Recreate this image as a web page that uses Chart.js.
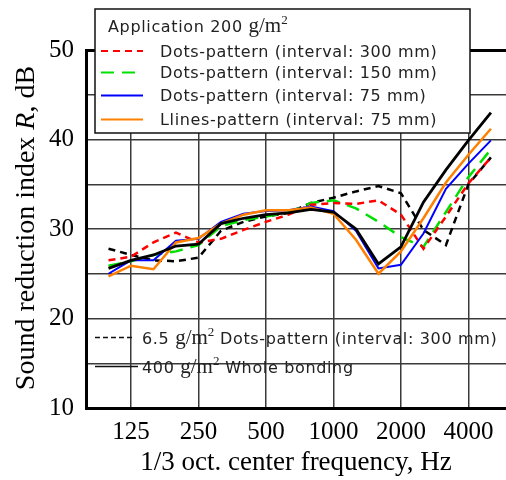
<!DOCTYPE html>
<html>
<head>
<meta charset="utf-8">
<script src="https://cdn.jsdelivr.net/npm/chart.js@4.4.0/dist/chart.umd.min.js"></script>
<style>
  html, body { margin: 0; padding: 0; background: #fff; overflow: hidden; }
  #wrap { width: 506px; height: 480px; position: relative; }
</style>
</head>
<body>
<div id="wrap"><canvas id="myChart"></canvas></div>
<script>
// 1/3 octave bands, 100 Hz .. 5000 Hz
var freqs = [100, 125, 160, 200, 250, 315, 400, 500, 630, 800, 1000, 1250, 1600, 2000, 2500, 3150, 4000, 5000];
var tickFreqs = [125, 250, 500, 1000, 2000, 4000];
var yTicks = [10, 20, 30, 40, 50];

var dots300 = [26.5, 26.9, 28.5, 29.6, 28.5, 28.9, 29.9, 30.8, 31.6, 32.7, 32.9, 32.8, 33.2, 31.6, 27.8, 31.4, 35.1, 38.0];
var dots150 = [25.9, 26.4, 27.1, 27.5, 28.2, 30.3, 31.0, 31.4, 31.9, 32.9, 33.2, 32.3, 30.8, 29.1, 28.0, 31.9, 35.8, 38.9];
var dots75 = [25.0, 26.5, 26.5, 28.7, 28.9, 30.8, 31.7, 32.0, 32.1, 32.5, 32.0, 29.8, 25.6, 26.0, 29.5, 34.5, 37.3, 39.9];
var lines75 = [24.7, 25.9, 25.5, 28.5, 29.0, 30.6, 31.6, 32.1, 32.1, 32.4, 31.7, 28.8, 25.0, 27.5, 31.2, 35.2, 38.3, 41.2];
var dots300light = [27.8, 27.1, 26.5, 26.4, 26.8, 29.8, 30.8, 31.4, 31.8, 32.9, 33.5, 34.2, 34.8, 34.0, 29.9, 28.2, 35.0, 38.0];
var whole400 = [25.6, 26.5, 27.1, 28.1, 28.3, 30.6, 31.2, 31.6, 31.8, 32.2, 31.9, 30.0, 26.1, 28.0, 33.0, 36.6, 39.9, 43.0];

var legendTitle = 'Application 200 ';
var topLabels = [
  'Dots-pattern (interval: 300 mm)',
  'Dots-pattern (interval: 150 mm)',
  'Dots-pattern (interval: 75 mm)',
  'Llines-pattern (interval: 75 mm)'
];
var bottomLabels = [
  ['6.5 ', ' Dots-pattern (interval: 300 mm)'],
  ['400 ', ' Whole bonding']
];
var yTitle = ['Sound reduction index ', 'R', ', dB'];
var xTitle = '1/3 oct. center frequency, Hz';

var serif = '"Liberation Serif", "Times New Roman", serif';
var sans = '"DejaVu Sans", sans-serif';
var sansFont = '16px ' + sans;
var spacing = '0.65px';

function pts(arr) {
  return arr.map(function (v, i) { return { x: i, y: v }; });
}

// sans part, then serif g/m with a raised 2, then sans again
function drawGm2(ctx, x, y, before, after) {
  ctx.letterSpacing = spacing;
  ctx.font = sansFont;
  ctx.fillText(before, x, y);
  x += ctx.measureText(before).width;
  ctx.letterSpacing = '0px';
  ctx.font = '21px ' + serif;
  ctx.fillText('g/m', x, y);
  x += ctx.measureText('g/m').width;
  ctx.font = '13px ' + serif;
  ctx.fillText('2', x, y - 8);
  x += ctx.measureText('2').width;
  if (after) {
    ctx.letterSpacing = spacing;
    ctx.font = sansFont;
    ctx.fillText(after, x, y);
    ctx.letterSpacing = '0px';
  }
}

var paperLegend = {
  id: 'paperLegend',
  afterDraw: function (chart) {
    var ctx = chart.ctx;
    var ds = chart.data.datasets;
    ctx.save();
    ctx.textBaseline = 'alphabetic';
    ctx.textAlign = 'left';

    // boxed legend
    ctx.fillStyle = '#fff';
    ctx.fillRect(95, 9, 375, 124);
    ctx.strokeStyle = '#111';
    ctx.lineWidth = 1.5;
    ctx.setLineDash([]);
    ctx.strokeRect(95, 9, 375, 124);

    ctx.fillStyle = '#222';
    drawGm2(ctx, 108, 31.5, legendTitle, '');

    var rows = [51, 72.5, 95.5, 119.5];
    for (var i = 0; i < topLabels.length; i++) {
      var y = rows[i];
      ctx.strokeStyle = ds[i].borderColor;
      ctx.lineWidth = 2;
      ctx.setLineDash(ds[i].borderDash || []);
      ctx.beginPath();
      ctx.moveTo(101, y);
      ctx.lineTo(143, y);
      ctx.stroke();
      ctx.letterSpacing = spacing;
      ctx.font = sansFont;
      ctx.fillText(topLabels[i], 160, y + 5.5);
      ctx.letterSpacing = '0px';
    }

    // legend inside the plot, no box
    ctx.strokeStyle = '#111';
    ctx.lineWidth = 1.5;
    ctx.setLineDash([5, 3]);
    ctx.beginPath();
    ctx.moveTo(95, 337.5);
    ctx.lineTo(133, 337.5);
    ctx.stroke();
    ctx.setLineDash([]);
    ctx.beginPath();
    ctx.moveTo(95, 366.5);
    ctx.lineTo(138, 366.5);
    ctx.stroke();
    ctx.fillStyle = '#222';
    drawGm2(ctx, 142, 343.5, bottomLabels[0][0], bottomLabels[0][1]);
    drawGm2(ctx, 142, 373, bottomLabels[1][0], bottomLabels[1][1]);

    // y title with italic R
    ctx.translate(34, 228);
    ctx.rotate(-Math.PI / 2);
    ctx.fillStyle = '#000';
    var parts = [
      { t: yTitle[0], f: '28px ' + serif },
      { t: yTitle[1], f: 'italic 28px ' + serif },
      { t: yTitle[2], f: '28px ' + serif }
    ];
    var total = 0;
    parts.forEach(function (p) { ctx.font = p.f; total += ctx.measureText(p.t).width; });
    var x = -total / 2;
    parts.forEach(function (p) {
      ctx.font = p.f;
      ctx.fillText(p.t, x, 0);
      x += ctx.measureText(p.t).width;
    });
    ctx.restore();
  }
};

var ctx = document.getElementById('myChart').getContext('2d');
var myChart = new Chart(ctx, {
  type: 'line',
  data: {
    datasets: [
      { label: topLabels[0], data: pts(dots300), borderColor: '#ff0000', borderWidth: 2.5, borderDash: [7, 5], order: 3 },
      { label: topLabels[1], data: pts(dots150), borderColor: '#00e000', borderWidth: 2.5, borderDash: [13, 8], order: 4 },
      { label: topLabels[2], data: pts(dots75), borderColor: '#0000ff', borderWidth: 2, order: 2 },
      { label: topLabels[3], data: pts(lines75), borderColor: '#ff8000', borderWidth: 2.5, order: 1 },
      { label: '6.5 g/m2 ' + bottomLabels[0][1], data: pts(dots300light), borderColor: '#000', borderWidth: 2.5, borderDash: [7, 5], order: 5 },
      { label: '400 g/m2 ' + bottomLabels[1][1], data: pts(whole400), borderColor: '#000', borderWidth: 2.8, order: 0 }
    ]
  },
  options: {
    responsive: true,
    maintainAspectRatio: false,
    animation: false,
    elements: { point: { radius: 0 }, line: { tension: 0, fill: false, borderCapStyle: 'butt' } },
    layout: { padding: { top: 50, right: 0, left: 0, bottom: 0 } },
    plugins: {
      legend: { display: false },
      tooltip: { enabled: false }
    },
    scales: {
      x: {
        type: 'linear',
        min: -1,
        max: 17.67,
        afterBuildTicks: function (scale) {
          scale.ticks = tickFreqs.map(function (f) { return { value: freqs.indexOf(f) }; });
        },
        afterFit: function (scale) { scale.height = 72; },
        ticks: {
          autoSkip: false,
          maxRotation: 0,
          padding: 9,
          color: '#000',
          font: { family: serif, size: 25 },
          callback: function (v) { return freqs[v]; }
        },
        grid: { color: '#3a3a3a', lineWidth: 1.5, drawTicks: false },
        border: { display: true, color: '#000', width: 3 },
        title: {
          display: true,
          text: xTitle,
          color: '#000',
          font: { family: serif, size: 27 },
          padding: { top: 0, bottom: 1 }
        }
      },
      y: {
        min: 10,
        max: 50,
        afterFit: function (scale) { scale.width = 86; },
        ticks: {
          stepSize: 5,
          padding: 12,
          color: '#000',
          font: { family: serif, size: 25 },
          callback: function (v) { return yTicks.indexOf(v) >= 0 ? v : ''; }
        },
        grid: {
          drawTicks: false,
          color: function (c) { return c.tick && c.tick.value === 50 ? '#000' : '#3a3a3a'; },
          lineWidth: function (c) { return c.tick && c.tick.value === 50 ? 3 : 1.5; }
        },
        border: { display: true, color: '#000', width: 3 }
      }
    }
  },
  plugins: [paperLegend]
});
</script>
</body>
</html>
